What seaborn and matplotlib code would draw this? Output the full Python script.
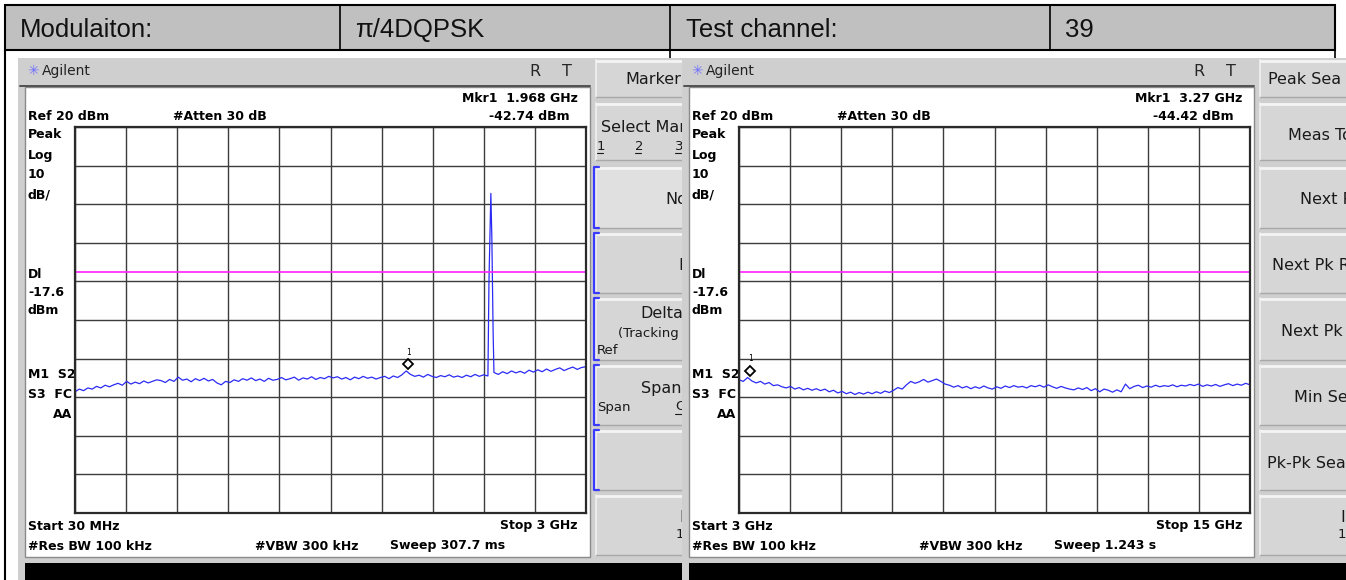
import numpy as np
import pandas as pd
import matplotlib
matplotlib.use('Agg')
import matplotlib.pyplot as plt
from matplotlib.patches import Rectangle
from matplotlib.transforms import offset_copy
import seaborn as sns

sns.set_theme(style='white')
plt.rcParams['font.family'] = ['DejaVu Sans']

header_cells = ['Modulaiton:', 'π/4DQPSK', 'Test channel:', '39']

ref_level = 20          # dBm, top of screen
db_per_div = 10
display_line = -17.6    # dBm (magenta line)

# 30 MHz - 3 GHz sweep
low_start, low_stop = 0.03, 3.0
low_noise_a = [-48.6, -47.9, -48.3, -47.6, -47.9, -47.2, -47.6, -46.9, -47.3, -46.8,
               -46.4, -46.9, -45.9, -46.6, -46.1, -46.5, -45.8, -46.3, -45.9, -45.5,
               -45.7, -46.2, -45.4, -45.9, -44.8, -45.6, -45.3, -46.0, -45.2, -45.7,
               -45.1, -45.8, -45.4, -46.3, -46.8, -45.9, -46.2, -45.5, -45.9, -45.2,
               -45.6, -45.0, -45.7, -45.3, -45.9, -45.1, -45.6, -45.4, -44.9, -45.5,
               -45.2, -44.8, -45.6, -45.0, -45.3, -44.7, -45.4, -44.9, -45.2, -44.6,
               -45.0, -44.7, -45.3, -44.9, -45.5, -44.8, -45.2, -44.6, -45.1, -44.8,
               -45.3, -44.9, -44.6, -45.2, -44.5, -44.9, -44.2, -43.2, -44.1, -44.6,
               -44.3, -44.8, -44.1, -44.6, -44.9, -44.4, -44.7, -44.2, -44.8, -44.5,
               -44.9, -44.3, -44.7, -44.1, -44.6, -44.2, -44.5]
spike_ghz = [2.436, 2.447, 2.453, 2.460]
spike_dbm = [-20.0, 2.8, -9.3, -32.6]
low_noise_b = [-43.6, -44.1, -43.4, -43.9, -43.2, -43.7, -43.3, -43.8, -43.0, -43.5,
               -42.9, -43.4, -42.7, -43.3, -42.8, -42.4, -43.1, -42.6, -42.2, -42.8,
               -42.3, -42.1]
low_marker = (1.968, -42.74)

# 3 GHz - 15 GHz sweep
high_start, high_stop = 3.0, 15.0
high_noise = [-45.5, -45.9, -44.9, -45.8, -46.3, -45.9, -46.6, -46.2, -47.0, -46.8,
              -47.3, -47.6, -47.2, -47.9, -47.5, -48.1, -47.7, -48.2, -47.8, -48.3,
              -47.9, -48.6, -48.2, -48.9, -48.5, -49.1, -48.7, -49.3, -48.8, -49.2,
              -48.7, -49.1, -48.6, -49.0, -48.4, -48.8, -48.2, -47.5, -47.9, -46.8,
              -45.9, -46.4, -46.0, -45.4, -46.1, -45.7, -45.3, -45.9, -46.6, -46.9,
              -47.4, -47.0, -47.6, -47.2, -47.8, -47.3, -47.7, -47.1, -47.6, -47.9,
              -47.3, -47.7, -47.1, -47.5, -47.0, -47.4, -47.2, -47.6, -47.0, -47.3,
              -46.9, -47.4, -46.8, -47.3, -47.7, -47.2, -47.6, -47.9, -48.1, -47.6,
              -48.0, -47.5, -48.3, -47.8, -48.6, -47.9, -48.2, -48.7, -48.1, -48.6,
              -46.6, -47.8, -47.2, -46.9, -47.5, -47.1, -47.4, -46.9, -47.3, -47.0,
              -47.2, -46.8, -47.3, -46.9, -47.1, -46.7, -47.0, -46.6, -47.2, -46.8,
              -47.1, -46.7, -47.2, -46.8, -46.5, -47.0, -46.6, -46.9, -46.4, -46.8]
high_marker = (3.27, -44.42)

low_labels = {'mkr': 'Mkr1  1.968 GHz', 'mkr_lvl': '-42.74 dBm',
              'start': 'Start 30 MHz', 'stop': 'Stop 3 GHz', 'sweep': 'Sweep 307.7 ms'}
high_labels = {'mkr': 'Mkr1  3.27 GHz', 'mkr_lvl': '-44.42 dBm',
               'start': 'Start 3 GHz', 'stop': 'Stop 15 GHz', 'sweep': 'Sweep 1.243 s'}

# softkey captions as far as they are visible on the screenshots
low_keys = ['Marker', 'Select Mar', 'No', 'D', 'Delta', 'Span', '', 'I']
high_keys = ['Peak Sea', 'Meas To', 'Next P', 'Next Pk R', 'Next Pk',
             'Min Se', 'Pk-Pk Sea', 'I']

low_df = pd.DataFrame({
    'ghz': np.concatenate([np.linspace(low_start, 2.43, len(low_noise_a)), spike_ghz,
                           np.linspace(2.465, low_stop, len(low_noise_b))]),
    'dbm': low_noise_a + spike_dbm + low_noise_b})
high_df = pd.DataFrame({'ghz': np.linspace(high_start, high_stop, len(high_noise)),
                        'dbm': high_noise})

# ---------------- figure ----------------
W, H = 1346, 580
fig = plt.figure(figsize=(W / 100, H / 100), dpi=100, facecolor='white')


def px_axes(x0, y0, x1, y1, z):
    ax = fig.add_axes([x0 / W, 1 - y1 / H, (x1 - x0) / W, (y1 - y0) / H], zorder=z)
    ax.set_xlim(x0, x1)
    ax.set_ylim(y1, y0)
    ax.axis('off')
    return ax


BOLD = dict(family='DejaVu Sans', weight='bold', fontsize=9, color='black', va='center')
KEY = dict(family='DejaVu Sans', fontsize=11.5, color='#1a1a1a', va='center')
SMALL = dict(family='DejaVu Sans', fontsize=9.5, color='#1a1a1a', va='center')

# table header
tab = px_axes(0, 0, W, H, 0)
tab.add_patch(Rectangle((5, 5), 1330, 45, fc='#c0c0c0', ec='black', lw=1.5))
for x in [340, 670, 1050]:
    tab.plot([x, x], [5, 50], color='black', lw=1.2)
tab.plot([670, 670], [50, 60], color='black', lw=1.2)
tab.plot([1335, 1335], [50, 60], color='black', lw=1.2)
tab.plot([5, 5], [50, 580], color='black', lw=1.5)
for x, s in zip([20, 355, 686, 1065], header_cells):
    tab.text(x, 30, s, family='Liberation Sans', fontsize=18.5, va='center', color='#111111')


def draw_screen(dx, x_end, z, brackets):
    bg = px_axes(18 + dx, 58, x_end, 580, z)
    bg.add_patch(Rectangle((18 + dx, 58), x_end - 18 - dx, 522, fc='#cfcfcf', ec='none'))
    # title bar
    bg.text(33 + dx, 71, '✳', color='#7070ff', fontsize=10, va='center', ha='center')
    bg.text(42 + dx, 71, 'Agilent', family='DejaVu Sans', fontsize=10, va='center', color='#222222')
    bg.text(535 + dx, 71, 'R', family='DejaVu Sans', fontsize=11.5, va='center', ha='center')
    bg.text(567 + dx, 71, 'T', family='DejaVu Sans', fontsize=11.5, va='center', ha='center')
    bg.plot([20 + dx, 590 + dx], [85.5, 85.5], color='#505050', lw=1.4)
    # screen
    bg.add_patch(Rectangle((25 + dx, 87), 565, 470, fc='white', ec='#8a8a8a', lw=1))
    bg.add_patch(Rectangle((25 + dx, 563), x_end - 25 - dx, 17, fc='black', ec='none'))
    # softkeys
    kx = 593 + dx
    spans = [(60, 97), (103, 160), (167, 228), (233, 293), (298, 360), (365, 425), (430, 490), (495, 555)]
    for i, (y0, y1) in enumerate(spans):
        fc = '#e0e0e0' if (brackets and i == 2) else '#d6d6d6'
        bg.add_patch(Rectangle((kx + 3, y0), 120, y1 - y0, fc=fc, ec='none'))
        bg.plot([kx + 3, kx + 123], [y0 + 1, y0 + 1], color='#f4f4f4', lw=2)
        bg.plot([kx + 3, kx + 3], [y0, y1], color='#f0f0f0', lw=1.2)
        bg.plot([kx + 3, kx + 123], [y1, y1], color='#a8a8a8', lw=1)
    if brackets:
        for y0, y1 in spans[2:7]:
            bg.plot([kx + 6, kx + 1, kx + 1, kx + 6], [y0, y0, y1, y1], color='#3a3aff', lw=1.6)
    return bg


def draw_trace(x0, z, df, start, stop, marker):
    ax = fig.add_axes([x0 / W, 1 - 513 / H, 511 / W, 386 / H], zorder=z)
    sns.lineplot(data=df, x='ghz', y='dbm', ax=ax, color='#2b2bf5', lw=0.9,
                 estimator=None, sort=False)
    ax.axhline(display_line, color='#ff20ff', lw=1.2)
    ax.set_xlim(start, stop)
    ax.set_ylim(ref_level - 10 * db_per_div, ref_level)
    ax.set_xticks(np.linspace(start, stop, 11))
    ax.set_yticks(np.arange(ref_level - 10 * db_per_div, ref_level + 1, db_per_div))
    ax.grid(True, color='#3c3c3c', lw=1.0)
    ax.tick_params(length=0, labelbottom=False, labelleft=False)
    ax.set_xlabel('')
    ax.set_ylabel('')
    for sp in ax.spines.values():
        sp.set_color('#2a2a2a')
        sp.set_linewidth(1.6)
    ax.set_facecolor('white')
    ax.plot([marker[0]], [marker[1]], marker='D', ms=5.5, mfc='white', mec='black', mew=1.3,
            transform=offset_copy(ax.transData, fig=fig, x=0, y=5, units='dots'),
            clip_on=False, zorder=6)
    ax.annotate('1', marker, xytext=(0, 17), textcoords='offset pixels', ha='center',
                va='center', fontsize=5.5, family='DejaVu Sans Mono', color='black')
    return ax


def screen_text(bg, dx, labels):
    bg.text(578 + dx, 98, labels['mkr'], ha='right', **BOLD)
    bg.text(28 + dx, 117, 'Ref 20 dBm', **BOLD)
    bg.text(173 + dx, 117, '#Atten 30 dB', **BOLD)
    bg.text(570 + dx, 117, labels['mkr_lvl'], ha='right', **BOLD)
    for y, s in [(135, 'Peak'), (155, 'Log'), (175, '10'), (195, 'dB/'), (275, 'Dl'),
                 (292, '-17.6'), (310, 'dBm'), (375, 'M1  S2'), (394, 'S3  FC')]:
        bg.text(28 + dx, y, s, **BOLD)
    bg.text(72 + dx, 414, 'AA', ha='right', **BOLD)
    bg.text(28 + dx, 526, labels['start'], **BOLD)
    bg.text(578 + dx, 526, labels['stop'], ha='right', **BOLD)
    bg.text(28 + dx, 546, '#Res BW 100 kHz', **BOLD)
    bg.text(255 + dx, 546, '#VBW 300 kHz', **BOLD)
    bg.text(390 + dx, 546, labels['sweep'], **BOLD)


# left screen (30 MHz - 3 GHz)
bgL = draw_screen(0, 685, 1, True)
screen_text(bgL, 0, low_labels)
bgL.text(681, 80, low_keys[0], ha='right', clip_on=True, **KEY)
bgL.text(601, 128, low_keys[1], clip_on=True, **KEY)
for x, s in [(597, '1'), (635, '2'), (675, '3')]:
    bgL.text(x, 146, s, clip_on=True, **SMALL)
    bgL.plot([x, x + 6], [153, 153], color='#1a1a1a', lw=0.8)
bgL.text(665, 200, low_keys[2], clip_on=True, **KEY)
bgL.text(678, 265, low_keys[3], clip_on=True, **KEY)
bgL.text(640, 313, low_keys[4], clip_on=True, **KEY)
bgL.text(618, 333, '(Tracking I', clip_on=True, **SMALL)
bgL.text(597, 351, 'Ref', **SMALL)
bgL.text(641, 388, low_keys[5], clip_on=True, **KEY)
bgL.text(597, 407, 'Span', **SMALL)
bgL.text(675, 407, 'C', clip_on=True, **SMALL)
bgL.plot([675, 682], [414, 414], color='#1a1a1a', lw=0.8)
bgL.text(679, 517, low_keys[7], clip_on=True, **KEY)
bgL.text(676, 535, '1', clip_on=True, **SMALL)
draw_trace(75, 2, low_df, low_start, low_stop, low_marker)

# right screen (3 GHz - 15 GHz)
dx = 664
bgR = draw_screen(dx, W, 3, False)
screen_text(bgR, dx, high_labels)
for (x, y), s in zip([(1268, 80), (1288, 135), (1300, 200), (1272, 265), (1281, 331),
                      (1294, 397), (1267, 463), (1340, 517)], high_keys):
    bgR.text(x, y, s, clip_on=True, **KEY)
bgR.text(1338, 535, '1', clip_on=True, **SMALL)
draw_trace(739, 4, high_df, high_start, high_stop, high_marker)

fig.savefig('out.png', dpi=100, facecolor='white')
